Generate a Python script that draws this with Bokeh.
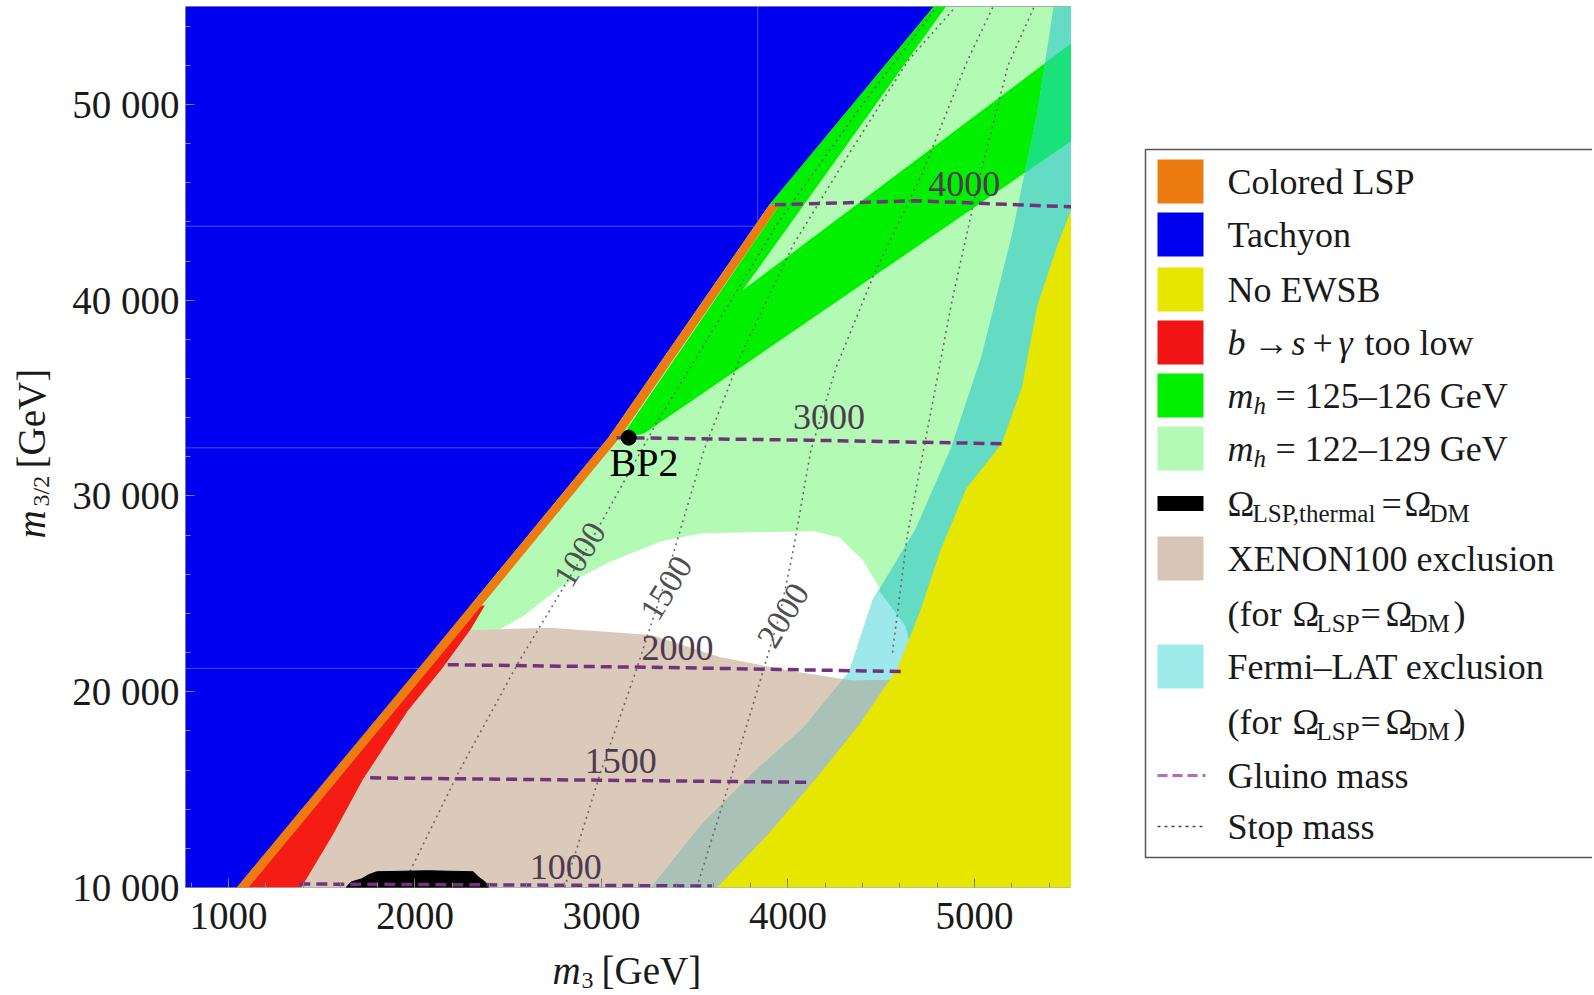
import math
from bokeh.plotting import figure
from bokeh.models import Range1d, FixedTicker
from bokeh.layouts import row, column
from bokeh.embed import file_html
from bokeh.resources import INLINE
from bokeh.core.properties import value

FONT = "Liberation Serif"

# ---------------- axes ----------------
X_MIN, X_MAX = 770, 5520
Y_MIN, Y_MAX = 10000, 55000
x_ticks = [1000, 2000, 3000, 4000, 5000]
x_minor = list(range(800, 5600, 200))
y_ticks = [10000, 20000, 30000, 40000, 50000]
y_minor = list(range(10000, 56000, 2000))
y_tick_labels = ["10 000", "20 000", "30 000", "40 000", "50 000"]

# ---------------- regions: m3 [GeV] vs m3/2 [GeV] ----------------
mh_wide_x = [1045, 2024, 3037, 3900, 4781, 5520, 5520]
mh_wide_y = [10000, 21240, 32976, 44869, 55000, 55000, 10000]

mh_narrow_x = [3100, 3955, 3900, 4781, 4847, 3757, 5520, 5520, 3228]
mh_narrow_y = [32900, 44869, 44869, 55000, 55000, 40506, 53125, 48140, 33184]

white_x = [2421, 2585, 2781, 3048, 3321, 3539, 4138, 4274, 4400, 4498, 4629, 4673, 4585, 4351, 4029, 3637, 3266, 2830]
white_y = [23006, 23889, 25343, 26640, 27680, 28095, 28198, 27887, 26745, 25187, 23369, 21812, 20617, 20565, 21032, 21760, 22902, 23110]

xenon_x = [1045, 2024, 2190, 2721, 3266, 3637, 4029, 4351, 4585, 5520, 5520]
xenon_y = [10000, 21240, 23110, 23266, 22902, 21760, 21032, 20565, 20617, 20617, 10000]

fermi_x = [3266, 3539, 3811, 4084, 4329, 4454, 4683, 4874, 5037, 5201, 5337, 5424, 5520, 5520]
fermi_y = [10000, 13243, 15840, 18177, 21032, 24668, 28302, 32457, 37131, 43362, 49594, 55000, 55000, 10000]

fermi_white_x = [4296, 4329, 4454, 4490, 4629, 4673, 4585, 4351]
fermi_white_y = [20640, 21032, 24668, 25150, 23369, 21812, 20617, 20565]

fermi_xenon_x = [3266, 3539, 3811, 4084, 4296, 4351, 4585, 5520, 5520]
fermi_xenon_y = [10000, 13243, 15840, 18177, 20640, 20565, 20617, 20617, 10000]

fermi_mh_x = [5378, 5520, 5520, 5271, 5337]
fermi_mh_y = [52110, 53125, 48140, 46510, 49594]

noewsb_x = [3620, 3893, 4138, 4383, 4590, 4710, 4819, 4956, 5146, 5255, 5337, 5446, 5520, 5520]
noewsb_y = [10000, 12724, 15424, 18332, 21240, 24148, 27264, 30380, 32665, 35573, 39727, 42843, 44661, 10000]

bsg_x = [1045, 1391, 1560, 1720, 1960, 2150, 2300, 2375, 2297, 2024]
bsg_y = [10000, 10000, 12700, 15500, 19000, 21240, 23200, 24400, 24400, 21240]

colored_x = [1045, 2024, 3037, 3900, 3955, 3097, 2084, 1108]
colored_y = [10000, 21240, 32976, 44869, 44869, 32976, 21240, 10000]

tachyon_x = [770, 4781, 3900, 3037, 2024, 1045, 770]
tachyon_y = [55000, 55000, 44869, 32976, 21240, 10000, 10000]

relic_x = [1631, 1658, 1713, 1751, 1795, 2067, 2312, 2340, 2383, 2394]
relic_y = [10000, 10283, 10439, 10647, 10803, 10855, 10803, 10543, 10231, 10000]

# faint tile seams inside the tachyon region
seam_x0 = [770, 770, 770, 3838]
seam_y0 = [43778, 32457, 21188, 43778]
seam_x1 = [3838, 3000, 2030, 3838]
seam_y1 = [43778, 32457, 21188, 55000]

# ---------------- contours ----------------
gluino_levels = ["1000", "1500", "2000", "3000", "4000"]
gluino_x = [[1380, 2500, 3593], [1760, 3000, 4122], [2176, 3321, 4607],
            [3081, 4100, 5163], [3930, 4683, 5520]]
gluino_y = [[10180, 10130, 10075], [15600, 15480, 15372], [21380, 21240, 21032],
            [32976, 32850, 32665], [44869, 45076, 44765]]
gluino_label_x = [2808, 3103, 3408, 4220, 4945]
gluino_label_y = [11062, 16463, 22227, 34015, 45959]

stop_levels = ["1000", "1500", "2000", "2500"]
stop_x = [[1931, 2231, 2558, 2906, 3130, 3300, 3600, 3950, 4400, 4800],
          [2803, 2994, 3184, 3332, 3550, 3757, 4029, 4330, 4640, 4900],
          [3511, 3702, 3866, 3958, 4029, 4122, 4260, 4460, 4720, 4960, 5100],
          [4560, 4640, 4760, 4880, 5020, 5180, 5320]]
stop_y = [[10000, 15840, 21552, 27056, 30899, 33800, 38500, 44000, 50000, 55000],
          [10000, 15840, 21032, 25343, 32353, 37390, 42843, 47517, 52190, 55000],
          [10000, 15840, 21032, 23993, 27264, 32301, 36612, 41285, 46478, 52190, 55000],
          [22000, 28000, 34000, 40000, 46000, 52000, 55000]]
stop_label_text = ["1000", "1500", "2000"]
stop_label_x = [2885, 3348, 3975]
stop_label_y = [27004, 25291, 23889]

bp_x = [3146]
bp_y = [32976]
bp_name = ["BP2"]
bp_label_x = [3228]
bp_label_y = [31683]

# ---------------- colours ----------------
C_LIGHTGREEN = "#b3fbb4"
C_GREEN = "#00f000"
C_WHITE = "#ffffff"
C_BEIGE = "#dbc9ba"
C_TEAL = "#64dcc4"
C_CYAN = "#9ce8ea"
C_GRAYTEAL = "#a9c1b6"
C_GREENTEAL = "#19e27a"
C_YELLOW = "#e6e600"
C_RED = "#f51c14"
C_ORANGE = "#ec7c10"
C_BLUE = "#0000f0"
C_GLUINO = "#71347c"
C_STOP = "#6a6a6a"
C_TEXT = "#1a1a1a"

# page geometry (pixels): plot frame x 185..1071, y 6..887
TOP, FRAME_H, BOTTOM = 6, 881, 60
ROW_H = TOP + FRAME_H + BOTTOM
PAGE_H = 994

# ---------------- main plot ----------------
p = figure(x_range=Range1d(X_MIN, X_MAX), y_range=Range1d(Y_MIN, Y_MAX),
           frame_width=886, frame_height=FRAME_H,
           min_border_left=117, min_border_right=0, min_border_top=TOP, min_border_bottom=BOTTOM,
           toolbar_location=None, output_backend="svg")
p.xgrid.grid_line_color = None
p.ygrid.grid_line_color = None
p.outline_line_color = "#9a9a9a"
p.background_fill_color = "white"
p.border_fill_color = "white"

for ax in (p.xaxis[0], p.yaxis[0]):
    ax.axis_line_color = None
    ax.major_tick_in = 9
    ax.major_tick_out = 0
    ax.minor_tick_in = 5
    ax.minor_tick_out = 0
    ax.major_tick_line_color = "#777777"
    ax.minor_tick_line_color = "#888888"
    ax.major_label_text_font = FONT
    ax.major_label_text_font_size = "39px"
    ax.major_label_text_color = C_TEXT
p.xaxis.ticker = FixedTicker(ticks=x_ticks, minor_ticks=x_minor)
p.yaxis.ticker = FixedTicker(ticks=y_ticks, minor_ticks=y_minor)
p.yaxis.major_label_overrides = dict(zip(y_ticks, y_tick_labels))
p.xaxis.major_label_standoff = 15
p.yaxis.major_label_standoff = 6

p.patch(mh_wide_x, mh_wide_y, fill_color=C_LIGHTGREEN, line_color=None)
p.patch(mh_narrow_x, mh_narrow_y, fill_color=C_GREEN, line_color=None)
p.patch(white_x, white_y, fill_color=C_WHITE, line_color=None)
p.patch(xenon_x, xenon_y, fill_color=C_BEIGE, line_color=None)
p.patch(fermi_x, fermi_y, fill_color=C_TEAL, line_color=None)
p.patch(fermi_white_x, fermi_white_y, fill_color=C_CYAN, line_color=None)
p.patch(fermi_xenon_x, fermi_xenon_y, fill_color=C_GRAYTEAL, line_color=None)
p.patch(fermi_mh_x, fermi_mh_y, fill_color=C_GREENTEAL, line_color=None)
p.multi_line(xs=stop_x, ys=stop_y, line_color=C_STOP, line_width=1.6, line_dash="2 4")
p.patch(noewsb_x, noewsb_y, fill_color=C_YELLOW, line_color=None)
p.patch(bsg_x, bsg_y, fill_color=C_RED, line_color=None)
p.patch(tachyon_x, tachyon_y, fill_color=C_BLUE, line_color=None)
p.segment(x0=seam_x0, y0=seam_y0, x1=seam_x1, y1=seam_y1, line_color="#4c4cff", line_width=1)
p.patch(colored_x, colored_y, fill_color=C_ORANGE, line_color=None)
p.patch(relic_x, relic_y, fill_color="black", line_color="black", line_width=1)
p.multi_line(xs=gluino_x, ys=gluino_y, line_color=C_GLUINO, line_width=3.5, line_dash="11 6")

p.text(x=gluino_label_x, y=gluino_label_y, text=gluino_levels,
       text_font=value(FONT), text_font_size="36px", text_color="#4d3a50",
       text_align="center", text_baseline="middle")
p.text(x=stop_label_x, y=stop_label_y, text=stop_label_text, angle=1.02,
       text_font=value(FONT), text_font_size="34px", text_color="#505050",
       text_align="center", text_baseline="middle")
p.scatter(x=bp_x, y=bp_y, size=15, color="black")
p.text(x=bp_label_x, y=bp_label_y, text=bp_name, text_font=value(FONT),
       text_font_size="40px", text_color="black", text_align="center", text_baseline="middle")

# ---------------- y-axis title panel (page pixel coordinates) ----------------
ylab = figure(x_range=Range1d(0, 68), y_range=Range1d(-(TOP + FRAME_H), -TOP), width=68,
              height=ROW_H, min_border_left=0, min_border_right=0,
              min_border_top=TOP, min_border_bottom=BOTTOM, toolbar_location=None,
              output_backend="svg", x_axis_location=None, y_axis_location=None,
              outline_line_color=None)
ylab.xgrid.visible = False
ylab.ygrid.visible = False
ylab.text(x=[31], y=[-538], text=["m"], angle=math.pi / 2, text_font=value(FONT),
          text_font_size="39px", text_font_style="italic", text_color=C_TEXT,
          text_align="left", text_baseline="middle")
ylab.text(x=[40], y=[-506], text=["3/2"], angle=math.pi / 2, text_font=value(FONT),
          text_font_size="24px", text_color=C_TEXT, text_align="left", text_baseline="middle")
ylab.text(x=[31], y=[-468], text=["[GeV]"], angle=math.pi / 2, text_font=value(FONT),
          text_font_size="39px", text_color=C_TEXT, text_align="left", text_baseline="middle")

# ---------------- legend panel (page pixel coordinates) ----------------
leg = figure(x_range=Range1d(1071, 1592), y_range=Range1d(TOP + FRAME_H, TOP), width=521,
             height=ROW_H, min_border_left=0, min_border_right=0,
             min_border_top=TOP, min_border_bottom=BOTTOM, toolbar_location=None,
             output_backend="svg", x_axis_location=None, y_axis_location=None,
             outline_line_color=None)
leg.xgrid.visible = False
leg.ygrid.visible = False

leg_colors = [C_ORANGE, C_BLUE, C_YELLOW, "#f01414", C_GREEN, C_LIGHTGREEN, "black", "#d7c6b5", "#9deaea"]
leg_rows = [181, 234, 289, 342, 395, 448, 503, 558, 666]
leg_heights = [44, 44, 44, 44, 44, 44, 15, 44, 44]
leg.quad(left=1145, right=1700, top=149, bottom=857, fill_color=None, line_color="#555555", line_width=1.5)
leg.quad(left=[1157] * len(leg_rows), right=[1203] * len(leg_rows),
         top=[r - h / 2 for r, h in zip(leg_rows, leg_heights)],
         bottom=[r + h / 2 for r, h in zip(leg_rows, leg_heights)],
         fill_color=leg_colors, line_color=None)
leg.segment(x0=[1157], y0=[775], x1=[1205], y1=[775], line_color="#b36ac6", line_width=3, line_dash="10 5")
leg.segment(x0=[1157], y0=[826], x1=[1205], y1=[826], line_color="#444444", line_width=1.5, line_dash="3 4")

reg_x = [1227, 1227, 1227, 1253, 1312, 1364, 1275, 1275, 1227, 1381, 1404, 1227, 1227, 1292, 1360, 1385, 1453,
         1227, 1227, 1292, 1360, 1385, 1453, 1227, 1227]
reg_y = [181, 234, 289, 342, 342, 342, 395, 448, 503, 503, 503, 558, 613, 613, 613, 613, 613,
         666, 721, 721, 721, 721, 721, 775, 826]
reg_t = ["Colored LSP", "Tachyon", "No EWSB", "\u2192", "+", "too low", "= 125\u2013126 GeV", "= 122\u2013129 GeV",
         "\u03a9", "=", "\u03a9", "XENON100 exclusion", "(for", "\u03a9", "=", "\u03a9", ")",
         "Fermi\u2013LAT exclusion", "(for", "\u03a9", "=", "\u03a9", ")", "Gluino mass", "Stop mass"]
ita_x = [1227, 1291, 1338, 1227, 1227]
ita_y = [342, 342, 342, 395, 448]
ita_t = ["b", "s", "\u03b3", "m", "m"]
sub_x = [1252, 1429, 1316, 1409, 1316, 1409]
sub_y = [513, 513, 623, 623, 731, 731]
sub_t = ["LSP,thermal", "DM", "LSP", "DM", "LSP", "DM"]
subi_x = [1253, 1253]
subi_y = [405, 458]
subi_t = ["h", "h"]

leg.text(x=reg_x, y=reg_y, text=reg_t, text_font=value(FONT), text_font_size="36px",
         text_color=C_TEXT, text_align="left", text_baseline="middle")
leg.text(x=ita_x, y=ita_y, text=ita_t, text_font=value(FONT), text_font_size="36px",
         text_font_style="italic", text_color=C_TEXT, text_align="left", text_baseline="middle")
leg.text(x=sub_x, y=sub_y, text=sub_t, text_font=value(FONT), text_font_size="25px",
         text_color=C_TEXT, text_align="left", text_baseline="middle")
leg.text(x=subi_x, y=subi_y, text=subi_t, text_font=value(FONT), text_font_size="25px",
         text_font_style="italic", text_color=C_TEXT, text_align="left", text_baseline="middle")

# ---------------- x-axis title strip (page pixel coordinates) ----------------
xlab = figure(x_range=Range1d(0, 1071), y_range=Range1d(PAGE_H, ROW_H), width=1071, height=PAGE_H - ROW_H,
              min_border=0, toolbar_location=None, output_backend="svg",
              x_axis_location=None, y_axis_location=None, outline_line_color=None)
xlab.xgrid.visible = False
xlab.ygrid.visible = False
xlab.text(x=[552], y=[970], text=["m"], text_font=value(FONT), text_font_size="39px",
          text_font_style="italic", text_color=C_TEXT, text_align="left", text_baseline="middle")
xlab.text(x=[581], y=[980], text=["3"], text_font=value(FONT), text_font_size="24px",
          text_color=C_TEXT, text_align="left", text_baseline="middle")
xlab.text(x=[601], y=[970], text=["[GeV]"], text_font=value(FONT), text_font_size="39px",
          text_color=C_TEXT, text_align="left", text_baseline="middle")

layout = column(row(ylab, p, leg), xlab)
open("out.html", "w").write(file_html(layout, INLINE))
